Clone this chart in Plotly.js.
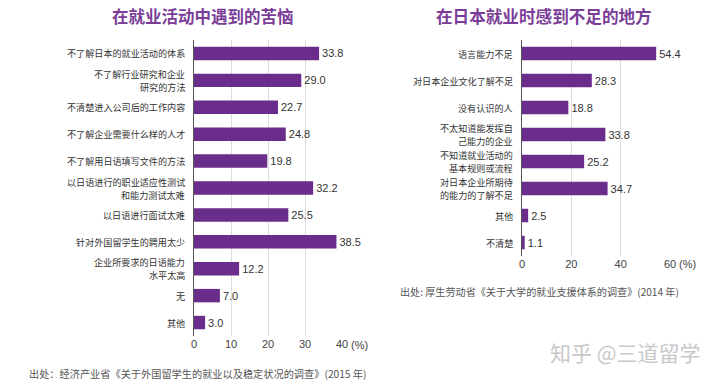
<!DOCTYPE html>
<html>
<head>
<meta charset="utf-8">
<script src="https://cdn.plot.ly/plotly-3.0.1.min.js"></script>
<style>html,body{margin:0;padding:0;background:#fff}#chart{width:720px;height:382px}</style>
</head>
<body>
<div id="chart"></div>
<script>
const leftCategories = [
  "不了解日本的就业活动的体系",
  "不了解行业研究和企业<br>研究的方法",
  "不清楚进入公司后的工作内容",
  "不了解企业需要什么样的人才",
  "不了解用日语填写文件的方法",
  "以日语进行的职业适应性测试<br>和能力测试太难",
  "以日语进行面试太难",
  "针对外国留学生的聘用太少",
  "企业所要求的日语能力<br>水平太高",
  "无",
  "其他"
];
const leftValues = [33.8, 29.0, 22.7, 24.8, 19.8, 32.2, 25.5, 38.5, 12.2, 7.0, 3.0];
const leftTicks = [0, 10, 20, 30, 40];

const rightCategories = [
  "语言能力不足",
  "对日本企业文化了解不足",
  "没有认识的人",
  "不太知道能发挥自<br>己能力的企业",
  "不知道就业活动的<br>基本规则或流程",
  "对日本企业所期待<br>的能力的了解不足",
  "其他",
  "不清楚"
];
const rightValues = [54.4, 28.3, 18.8, 33.8, 25.2, 34.7, 2.5, 1.1];
const rightTicks = [0, 20, 40, 60];

const leftTitle = "在就业活动中遇到的苦恼";
const rightTitle = "在日本就业时感到不足的地方";
const leftSource = "出处：经济产业省《关于外国留学生的就业以及稳定状况的调查》(2015 年)";
const rightSource = "出处: 厚生劳动省《关于大学的就业支援体系的调查》(2014 年)";
const watermark = "知乎 @三道留学";

const FONT = '"Noto Sans CJK SC", "Noto Sans", sans-serif';
const NUMFONT = '"Liberation Sans", Arial, sans-serif';
const BAR = '#6b2d8c';
const TITLE = '#7a3d98';

const LX0 = 194, LX1 = 342, RX0 = 522, RX1 = 670;

const traces = [
  {type:'bar', orientation:'h', x:leftValues, y:leftCategories, xaxis:'x', yaxis:'y',
   marker:{color:BAR}, width:0.5, text:leftValues.map(v=>v.toFixed(1)), textposition:'outside',
   textfont:{size:11, color:'#333', family:NUMFONT}, cliponaxis:false, hoverinfo:'none'},
  {type:'bar', orientation:'h', x:rightValues, y:rightCategories, xaxis:'x2', yaxis:'y2',
   marker:{color:BAR}, width:0.5, text:rightValues.map(v=>v.toFixed(1)), textposition:'outside',
   textfont:{size:11, color:'#333', family:NUMFONT}, cliponaxis:false, hoverinfo:'none'}
];

const xCommon = {showgrid:true, gridcolor:'#dcdcdc', gridwidth:1, zeroline:false, showline:false,
  ticks:'', tickfont:{size:11, color:'#444', family:NUMFONT}, tickmode:'array', fixedrange:true};
const yCommon = {autorange:'reversed', showgrid:false, zeroline:false, showline:true, linecolor:'#555', linewidth:1.5,
  ticks:'', showticklabels:false, fixedrange:true};

// category labels as right-aligned annotations, one per line
function labelAnnotations(cats, yref, xPix) {
  const out = [];
  cats.forEach(c => {
    const lines = c.split('<br>');
    const n = lines.length;
    lines.forEach((ln, i) => {
      out.push({text:ln, xref:'paper', yref:yref, x:(xPix-8)/720, y:c, xanchor:'right', yanchor:'middle',
        yshift:((n-1)/2 - i)*13, showarrow:false, borderpad:0, font:{size:9.1, color:'#333', family:FONT}});
    });
  });
  return out;
}

const layout = {
  width:720, height:382, margin:{l:0,r:0,t:0,b:0},
  paper_bgcolor:'#fff', plot_bgcolor:'#fff', showlegend:false,
  font:{family:FONT},
  xaxis:Object.assign({}, xCommon, {domain:[LX0/720, LX1/720], range:[0,40], tickvals:leftTicks, anchor:'y'}),
  yaxis:Object.assign({}, yCommon, {domain:[1-336/382, 1-40/382], anchor:'x'}),
  xaxis2:Object.assign({}, xCommon, {domain:[RX0/720, RX1/720], range:[0,60], tickvals:rightTicks, anchor:'y2'}),
  yaxis2:Object.assign({}, yCommon, {domain:[1-256/382, 1-40/382], anchor:'x2'}),
  annotations:[
    {text:leftTitle, xref:'paper', yref:'paper', x:203/720, y:1-16/382, xanchor:'center', yanchor:'middle', showarrow:false,
     font:{size:16.5, color:TITLE, family:FONT, weight:'bold'}},
    {text:rightTitle, xref:'paper', yref:'paper', x:544/720, y:1-16/382, xanchor:'center', yanchor:'middle', showarrow:false,
     font:{size:16.6, color:TITLE, family:FONT, weight:'bold'}},
    {text:'(%)', xref:'x', yref:'paper', x:40, y:1-345/382, xanchor:'left', yanchor:'middle', xshift:7, showarrow:false,
     font:{size:11, color:'#444', family:NUMFONT}},
    {text:'(%)', xref:'x2', yref:'paper', x:60, y:1-264/382, xanchor:'left', yanchor:'middle', xshift:7, showarrow:false,
     font:{size:11, color:'#444', family:NUMFONT}},
    {text:leftSource, xref:'paper', yref:'paper', x:197/720, y:1-373/382, xanchor:'center', yanchor:'middle', showarrow:false,
     font:{size:10.2, color:'#555', family:FONT}},
    {text:rightSource, xref:'paper', yref:'paper', x:539/720, y:1-291/382, xanchor:'center', yanchor:'middle', showarrow:false,
     font:{size:10.1, color:'#555', family:FONT}},
    {text:watermark, xref:'paper', yref:'paper', x:625/720, y:1-352/382, xanchor:'center', yanchor:'middle', showarrow:false,
     font:{size:21, color:'#c8c8c8', family:FONT}}
  ].concat(labelAnnotations(leftCategories, 'y', LX0), labelAnnotations(rightCategories, 'y2', RX0))
};

Plotly.newPlot('chart', traces, layout, {staticPlot:true, displayModeBar:false});
</script>
</body>
</html>
